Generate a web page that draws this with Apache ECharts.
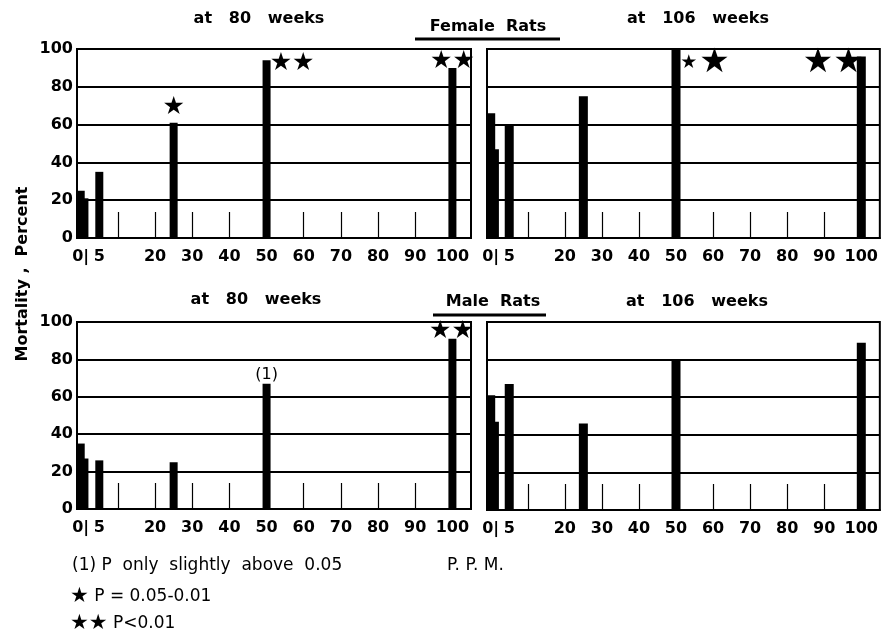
<!DOCTYPE html>
<html><head><meta charset="utf-8">
<script src="https://cdn.jsdelivr.net/npm/echarts@6/dist/echarts.min.js"></script>
<style>html,body{margin:0;padding:0;background:#fff}#c{width:881px;height:635px}</style>
</head><body><div id="c"></div>
<script>
// ---- data ----
const doses = [0, 1, 5, 25, 50, 100];
const xTickLabels = [0, 5, 20, 30, 40, 50, 60, 70, 80, 90, 100];
const xMinorTicks = [10, 20, 30, 40, 60, 70, 80, 90];
const female80 = [25, 21, 35, 61, 94, 90];
const female106 = [66, 47, 60, 75, 100, 96];
const male80 = [35, 27, 26, 25, 67, 91];
const male106 = [61, 47, 67, 46, 80, 89];
const femaleSig80 = ['', '', '', '*', '**', '**'];
const femaleSig106 = ['', '', '', '', '**', '**'];
const maleSig80 = ['', '', '', '', '(1)', '**'];
const maleSig106 = ['', '', '', '', '', ''];
const panelTitles = ['at   80   weeks', 'at   106   weeks', 'at   80   weeks', 'at   106   weeks'];
const groupTitles = ['Female  Rats', 'Male  Rats'];
const yAxisTitle = 'Mortality ,  Percent';
const xAxisTitle = 'P. P. M.';
const footnoteText = '(1) P  only  slightly  above  0.05';
const legendItems = [{stars: 1, text: 'P = 0.05-0.01'}, {stars: 2, text: 'P<0.01'}];

// ---- layout / style ----
const FONT = 'DejaVu Sans';
const panels = [
  {values: female80, sigs: femaleSig80, grid: {left: 77, top: 49, width: 394, height: 189}, yLabels: true, barW: 8},
  {values: female106, sigs: femaleSig106, grid: {left: 487, top: 49, width: 393, height: 189}, yLabels: false, barW: 9},
  {values: male80, sigs: maleSig80, grid: {left: 77, top: 322, width: 394, height: 187}, yLabels: true, barW: 8},
  {values: male106, sigs: maleSig106, grid: {left: 487, top: 322, width: 393, height: 188}, yLabels: false, barW: 9}
];
const labelPlacement = [
  {3: {pos: [4, -15], sizes: ['s']}, 4: {pos: [29.5, 3], sizes: ['s', 's']}, 5: {pos: [4, -6], sizes: ['s', 's']}},
  {4: {pos: [32.5, 14], sizes: ['sm', 'lg']}, 5: {pos: [-23.5, 6.5], sizes: ['lg', 'lg']}},
  {4: {pos: [4, -9]}, 5: {pos: [3, -7], sizes: ['s', 's']}},
  {}
];
const starRich = {
  s: {fontSize: 25, fontFamily: FONT, color: '#000', verticalAlign: 'middle', padding: [0, 0]},
  sm: {fontSize: 19, fontFamily: FONT, color: '#000', verticalAlign: 'middle', padding: [0, 2]},
  lg: {fontSize: 34, fontFamily: FONT, color: '#000', verticalAlign: 'middle', padding: [0, 0]},
  t: {fontSize: 17, fontFamily: FONT, color: '#000', verticalAlign: 'middle'},
  ls: {fontSize: 21, fontFamily: FONT, color: '#000', verticalAlign: 'middle'}
};

function barData(p, pi) {
  return doses.map((d, k) => {
    const item = {value: [d, p.values[k]]};
    const sig = p.sigs[k];
    if (sig) {
      const pl = labelPlacement[pi][k];
      let text;
      if (sig.indexOf('*') === 0) {
        text = pl.sizes.slice(0, sig.length).map(s => '{' + s + '|\u2605}').join('');
      } else {
        text = sig;
      }
      item.label = {show: true, position: pl.pos, align: 'center', verticalAlign: 'middle',
        formatter: text, rich: starRich, color: '#000', fontFamily: FONT, fontSize: 16};
    }
    return item;
  });
}

const txt = (x, y, text, extra) => ({type: 'text', x, y, style: Object.assign({text, fontFamily: FONT, fontSize: 17,
  fill: '#000', align: 'left', verticalAlign: 'middle'}, extra || {})});

const option = {
  animation: false,
  backgroundColor: '#fff',
  grid: panels.map(p => Object.assign({show: true, borderColor: '#000', borderWidth: 2, backgroundColor: 'transparent'}, p.grid)),
  xAxis: panels.map((p, i) => ({
    type: 'value', gridIndex: i, min: -1, max: 105,
    axisLine: {show: true, onZero: false, lineStyle: {color: '#000', width: 2}},
    axisTick: {show: true, inside: true, length: 26, customValues: xMinorTicks, lineStyle: {color: '#000', width: 1.2}},
    axisLabel: {show: true, customValues: xTickLabels, formatter: v => v === 0 ? '0|' : String(v),
      color: '#000', fontFamily: FONT, fontSize: 16, fontWeight: 'bold', margin: 11},
    splitLine: {show: false}
  })),
  yAxis: panels.map((p, i) => ({
    type: 'value', gridIndex: i, min: 0, max: 100, interval: 20,
    axisLine: {show: true, onZero: false, lineStyle: {color: '#000', width: 2}},
    axisTick: {show: false},
    axisLabel: {show: p.yLabels, color: '#000', fontFamily: FONT, fontSize: 16, fontWeight: 'bold', margin: 4},
    splitLine: {show: true, lineStyle: {color: '#000', width: 2}}
  })),
  title: [
    {text: panelTitles[0], left: 259, top: 11, textAlign: 'center'},
    {text: panelTitles[1], left: 698, top: 11, textAlign: 'center'},
    {text: panelTitles[2], left: 256, top: 292, textAlign: 'center'},
    {text: panelTitles[3], left: 697, top: 294, textAlign: 'center'},
    {text: groupTitles[0], left: 488, top: 19, textAlign: 'center'},
    {text: groupTitles[1], left: 493, top: 294, textAlign: 'center'}
  ].map(t => Object.assign(t, {padding: 0, textStyle: {fontFamily: FONT, fontSize: 16, fontWeight: 'bold', color: '#000'}})),
  graphic: [
    {type: 'line', shape: {x1: 415, y1: 39, x2: 560, y2: 39}, style: {stroke: '#000', lineWidth: 3}},
    {type: 'line', shape: {x1: 433, y1: 315, x2: 546, y2: 315}, style: {stroke: '#000', lineWidth: 3}},
    {type: 'text', x: 23, y: 274, rotation: Math.PI / 2,
      style: {text: yAxisTitle, fontFamily: FONT, fontSize: 16, fontWeight: 'bold', fill: '#000', align: 'center', verticalAlign: 'middle'}},
    txt(72, 566, footnoteText),
    txt(447, 566, xAxisTitle),
    txt(70, 597, '{ls|' + '\u2605'.repeat(legendItems[0].stars) + '} {t|' + legendItems[0].text + '}', {rich: starRich}),
    txt(70, 624, '{ls|' + '\u2605'.repeat(legendItems[1].stars) + '} {t|' + legendItems[1].text + '}', {rich: starRich})
  ],
  series: panels.map((p, i) => ({
    type: 'bar', xAxisIndex: i, yAxisIndex: i, barWidth: p.barW,
    itemStyle: {color: '#000'},
    data: barData(p, i)
  }))
};
const chart = echarts.init(document.getElementById('c'), null, {renderer: 'canvas'});
chart.setOption(option);
</script></body></html>
